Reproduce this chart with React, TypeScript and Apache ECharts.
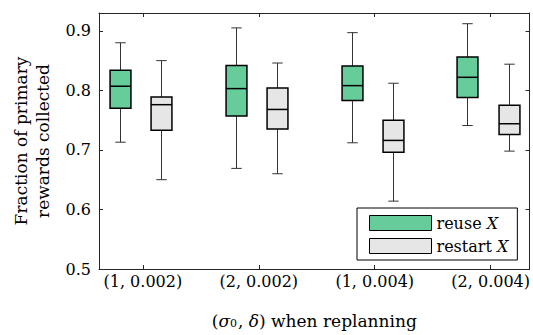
import React, { useEffect, useRef } from 'react';
import * as echarts from 'echarts';

const categories = ['(1, 0.002)', '(2, 0.002)', '(1, 0.004)', '(2, 0.004)'];
const yTicks = [0.5, 0.6, 0.7, 0.8, 0.9];
// each row: [min, q1, median, q3, max]
const reuseX = [
  [0.713, 0.770, 0.807, 0.834, 0.880],
  [0.669, 0.757, 0.803, 0.842, 0.905],
  [0.712, 0.783, 0.808, 0.841, 0.897],
  [0.741, 0.788, 0.822, 0.856, 0.912],
];
const restartX = [
  [0.650, 0.733, 0.776, 0.789, 0.850],
  [0.660, 0.735, 0.768, 0.804, 0.846],
  [0.614, 0.696, 0.716, 0.750, 0.812],
  [0.698, 0.726, 0.744, 0.775, 0.844],
];

const FONT = 'DejaVu Serif';
const AX = '#262626';
const GREEN = '#66CC99';
const GRAY = '#E6E6E6';
const BOX_W = 0.18;
const CAP_W = 0.09;

const makeRender = (offset: number, fill: string) => (params: any, api: any) => {
  const x = api.value(0) + offset;
  const vals = [1, 2, 3, 4, 5].map((i) => api.value(i));
  const pts = vals.map((v) => api.coord([x, v]));
  const cx = Math.round(pts[0][0]) + 0.5;
  const hb = api.size([BOX_W, 0])[0] / 2;
  const hc = api.size([CAP_W, 0])[0] / 2;
  const [pMin, pQ1, pMed, pQ3, pMax] = pts;
  const wStyle = { stroke: '#333', lineWidth: 1 };
  return {
    type: 'group',
    children: [
      { type: 'line', shape: { x1: cx, y1: pMax[1], x2: cx, y2: pQ3[1] }, style: wStyle },
      { type: 'line', shape: { x1: cx, y1: pQ1[1], x2: cx, y2: pMin[1] }, style: wStyle },
      { type: 'line', shape: { x1: cx - hc, y1: pMax[1], x2: cx + hc, y2: pMax[1] }, style: wStyle },
      { type: 'line', shape: { x1: cx - hc, y1: pMin[1], x2: cx + hc, y2: pMin[1] }, style: wStyle },
      {
        type: 'rect',
        shape: { x: cx - hb, y: pQ3[1], width: 2 * hb, height: pQ1[1] - pQ3[1] },
        style: { fill, stroke: '#000', lineWidth: 1.5 },
      },
      { type: 'line', shape: { x1: cx - hb, y1: pMed[1], x2: cx + hb, y2: pMed[1] }, style: { stroke: '#000', lineWidth: 1.5 } },
    ],
  };
};

export default function App() {
  const ref = useRef<HTMLDivElement>(null);
  useEffect(() => {
    if (!ref.current) return;
    const chart = echarts.init(ref.current, null, { renderer: 'svg' });
    const xMin = 0.622;
    const xMax = 4.335;
    const tickVals = categories.map((_, i) => i + 1);
    const baseX = {
      type: 'value',
      min: xMin,
      max: xMax,
      splitLine: { show: false },
      axisLine: { show: true, lineStyle: { color: AX, width: 1 } },
    };
    const baseY = {
      type: 'value',
      min: 0.5,
      max: 0.93,
      splitLine: { show: false },
      axisLine: { show: true, lineStyle: { color: AX, width: 1 } },
    };
    chart.setOption({
      animation: false,
      grid: { left: 99, right: 2, top: 13, bottom: 66 },
      legend: {
        left: 357,
        top: 208,
        orient: 'vertical',
        padding: [7, 9, 6, 12],
        itemWidth: 62,
        itemHeight: 15,
        itemGap: 7,
        borderColor: '#000',
        borderWidth: 1,
        backgroundColor: '#fff',
        borderRadius: 0,
        data: [
          { name: 'reuse X', icon: 'rect', itemStyle: { color: GREEN, borderColor: '#000', borderWidth: 1 } },
          { name: 'restart X', icon: 'rect', itemStyle: { color: GRAY, borderColor: '#000', borderWidth: 1 } },
        ],
        formatter: (n: string) => (n === 'reuse X' ? '{n|reuse }{i|X}' : '{n|restart }{i|X}'),
        textStyle: {
          fontFamily: FONT,
          fontSize: 16,
          color: '#000',
          rich: {
            n: { fontFamily: FONT, fontSize: 16, color: '#000' },
            i: { fontFamily: FONT, fontSize: 16, fontStyle: 'italic', color: '#000' },
          },
        },
      },
      xAxis: [
        {
          ...baseX,
          position: 'bottom',
          name: '({i|σ}{s|0}, {i|δ}) when replanning',
          nameLocation: 'middle',
          nameGap: 43,
          nameTextStyle: {
            fontFamily: FONT,
            fontSize: 17,
            color: '#000',
            rich: {
              i: { fontFamily: FONT, fontSize: 17, fontStyle: 'italic', color: '#000' },
              s: { fontFamily: FONT, fontSize: 11, color: '#000', verticalAlign: 'bottom', lineHeight: 12, padding: [0, 1, 0, 0] },
            },
          },
          axisTick: { show: true, inside: true, length: 4, customValues: tickVals, lineStyle: { color: AX } },
          axisLabel: {
            show: true,
            customValues: tickVals,
            margin: 4,
            fontFamily: FONT,
            fontSize: 16,
            color: '#000',
            formatter: (v: number) => categories[Math.round(v) - 1] ?? '',
          },
        },
        {
          ...baseX,
          position: 'top',
          axisTick: { show: true, inside: true, length: 4, customValues: tickVals, lineStyle: { color: AX } },
          axisLabel: { show: false },
        },
      ],
      yAxis: [
        {
          ...baseY,
          position: 'left',
          name: 'Fraction of primary\nrewards collected',
          nameLocation: 'middle',
          nameGap: 45,
          nameTextStyle: { fontFamily: FONT, fontSize: 17, color: '#000', lineHeight: 22 },
          axisTick: { show: true, inside: true, length: 4, customValues: yTicks, lineStyle: { color: AX } },
          axisLabel: {
            show: true,
            customValues: yTicks,
            margin: 8,
            fontFamily: FONT,
            fontSize: 16,
            color: '#000',
            formatter: (v: number) => v.toFixed(1),
          },
        },
        {
          ...baseY,
          position: 'right',
          axisTick: { show: true, inside: true, length: 4, customValues: yTicks, lineStyle: { color: AX } },
          axisLabel: { show: false },
        },
      ],
      series: [
        {
          name: 'reuse X',
          type: 'custom',
          xAxisIndex: 0,
          yAxisIndex: 0,
          itemStyle: { color: GREEN },
          encode: { x: 0, y: [1, 2, 3, 4, 5] },
          renderItem: makeRender(-0.2, GREEN),
          data: reuseX.map((r, i) => [i + 1, ...r]),
        },
        {
          name: 'restart X',
          type: 'custom',
          xAxisIndex: 0,
          yAxisIndex: 0,
          itemStyle: { color: GRAY },
          encode: { x: 0, y: [1, 2, 3, 4, 5] },
          renderItem: makeRender(0.155, GRAY),
          data: restartX.map((r, i) => [i + 1, ...r]),
        },
      ],
    });
    return () => chart.dispose();
  }, []);
  return <div ref={ref} style={{ width: 533, height: 335, position: 'absolute', left: 0, top: 0 }} />;
}
